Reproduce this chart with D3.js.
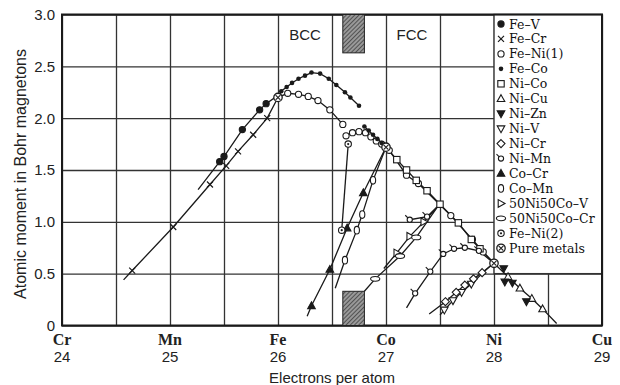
<!DOCTYPE html>
<html>
<head>
  <meta charset="UTF-8">
  <style>
    body { margin: 0; padding: 0; background: #fff; }
    svg { display: block; }
    .tick-num { font-family: "Liberation Sans", Arial, sans-serif; font-size: 15px; fill: #222; }
    .elem { font-family: "Liberation Serif", serif; font-weight: bold; font-size: 16px; fill: #222; }
    .title { font-family: "Liberation Sans", Arial, sans-serif; font-size: 15px; fill: #222; }
    .leg { font-family: "DejaVu Serif", serif; font-size: 12.5px; fill: #111; }
  </style>
</head>
<body>
<svg id="chart"></svg>
<script src="https://d3js.org/d3.v7.min.js"></script>
<script>
let width = 620, height = 385;
let margin = {top: 14.5, right: 18, bottom: 59.5, left: 62};

// axes
const elements = ["Cr", "Mn", "Fe", "Co", "Ni", "Cu"];
const electronTicks = [24, 25, 26, 27, 28, 29];
const momentTicks = [0, 0.5, 1, 1.5, 2, 2.5, 3];

// series: [electrons, moment, marker?]  (third value 0 = line end, no marker)
const feV = [[25.26,1.31,0],[25.46,1.58],[25.5,1.63],[25.67,1.89],[25.83,2.08],[25.89,2.14],[26.0,2.22,0]];
const feCr = [[24.57,0.44,0],[24.65,0.53],[25.03,0.95],[25.37,1.36],[25.52,1.54],[25.63,1.68],[25.77,1.84],[25.9,2.0],[26.0,2.2,0]];
const feNi1Bcc = [[26.0,2.2,0],[26.09,2.24],[26.19,2.23],[26.28,2.21],[26.37,2.17],[26.48,2.08],[26.6,1.94]];
const feNi1Fcc = [[26.63,1.83],[26.69,1.86],[26.75,1.87],[26.81,1.86],[26.86,1.82],[26.91,1.78],[26.96,1.75],[27.03,1.69],[27.19,1.45],[27.3,1.37],[27.6,1.06],[27.8,0.83],[27.9,0.71],[28.0,0.6,0]];
const feCoBcc = [[26.0,2.2,0],[26.03,2.26],[26.08,2.3],[26.13,2.34],[26.19,2.38],[26.25,2.41],[26.31,2.44],[26.39,2.43],[26.47,2.38],[26.54,2.32],[26.62,2.25],[26.67,2.2],[26.75,2.12]];
const feCoFcc = [[26.8,1.92],[26.84,1.88],[26.88,1.84],[26.92,1.8],[26.96,1.76],[27.0,1.72,0]];
const niCo = [[27.0,1.72,0],[27.1,1.6],[27.19,1.5],[27.28,1.4],[27.38,1.3],[27.5,1.17],[27.67,0.99],[27.79,0.83],[27.87,0.74],[28.0,0.6,0]];
const niCu = [[28.0,0.6,0],[28.13,0.47],[28.24,0.36],[28.35,0.26],[28.45,0.16],[28.58,0.02,0]];
const niZn = [[28.09,0.55],[28.1,0.42],[28.17,0.41],[28.3,0.23]];
const niV = [[27.5,0.1,0],[27.54,0.15],[27.62,0.24],[27.7,0.32],[27.79,0.4],[27.97,0.58,0]];
const niCr = [[27.4,0.11,0],[27.55,0.23],[27.65,0.32],[27.73,0.39],[27.81,0.45],[27.89,0.51],[28.0,0.6,0]];
const niMn = [[27.19,0.17,0],[27.27,0.31],[27.41,0.52],[27.53,0.69],[27.63,0.74],[27.73,0.75],[27.86,0.72],[28.0,0.6,0]];
const niMn2 = [[27.22,1.02],[27.38,1.05],[27.47,1.14,0]];
const coCr = [[26.27,0.09,0],[26.31,0.19],[26.48,0.54],[26.64,0.94],[26.79,1.28],[27.0,1.72,0]];
const coMn = [[26.53,0.36,0],[26.62,0.63],[26.73,0.92],[26.78,1.07],[26.88,1.4],[27.0,1.72,0]];
const niCoV = [[26.98,0.55,0],[27.1,0.7],[27.22,0.86],[27.35,1.0],[27.48,1.15,0]];
const niCoCr = [[26.8,0.33,0],[26.9,0.45],[27.13,0.67],[27.28,0.85],[27.48,1.15,0]];
const feNi2 = [[26.59,0.92],[26.65,1.75]];
const pureMetals = [[26.0,2.2],[27.0,1.72],[28.0,0.6]];

const legendNames = ["Fe–V","Fe–Cr","Fe–Ni(1)","Fe–Co","Ni–Co","Ni–Cu","Ni–Zn","Ni–V","Ni–Cr","Ni–Mn","Co–Cr","Co–Mn","50Ni50Co–V","50Ni50Co–Cr","Fe–Ni(2)","Pure metals"];
const legendSymbols = ["bigdot","cross","circle","dot","square","tri","tridf","trid","diamond","tail","trif","vell","trir","hell","dotc","pure"];

// BCC/FCC two-phase band and labels (data units)
const hatchX = [26.6, 26.8];
const hatchTop = 2.63, hatchBottom = 0.33;
const phaseLabels = [{t: "BCC", x: 26.25, y: 2.8}, {t: "FCC", x: 27.24, y: 2.8}];

let series = [
  {pts: feCr, sym: "cross"}, {pts: feV, sym: "bigdot"},
  {pts: feNi1Bcc, sym: "circle"}, {pts: feNi1Fcc, sym: "circle"},
  {pts: feCoBcc, sym: "dot"}, {pts: feCoFcc, sym: "dot"},
  {pts: niCo, sym: "square"}, {pts: niCu, sym: "tri"},
  {pts: niZn, sym: "tridf", noLine: true},
  {pts: niV, sym: "trid"}, {pts: niCr, sym: "diamond"},
  {pts: niMn, sym: "tail"}, {pts: niMn2, sym: "tail"},
  {pts: coCr, sym: "trif"}, {pts: coMn, sym: "vell"},
  {pts: niCoV, sym: "trir"}, {pts: niCoCr, sym: "hell"},
  {pts: feNi2, sym: "dotc"}, {pts: pureMetals, sym: "pure", noLine: true}
];

let svg = d3.select("#chart").attr("width", width).attr("height", height);

let x = d3.scaleLinear().domain([24, 29]).range([margin.left, width - margin.right]);
let y = d3.scaleLinear().domain([0, 3]).range([height - margin.bottom, margin.top]);

let ink = "#1a1a1a";

// hatch pattern
let pat = svg.append("defs").append("pattern")
    .attr("id", "hatch").attr("width", 3).attr("height", 3)
    .attr("patternUnits", "userSpaceOnUse")
    .attr("patternTransform", "rotate(45)");
pat.append("rect").attr("width", 3).attr("height", 3).attr("fill", "#999");
pat.append("line").attr("x1", 0).attr("y1", 0).attr("x2", 0).attr("y2", 3)
    .attr("stroke", "#333").attr("stroke-width", 1.4);

// grid
svg.append("g")
    .attr("transform", `translate(0,${y(0)})`)
    .call(d3.axisBottom(x).tickValues(d3.range(24, 29.01, 0.5)).tickSize(-(y(0) - y(3))).tickFormat(""))
    .call(g => g.select(".domain").remove())
    .call(g => g.selectAll("line").attr("stroke", "#333").attr("stroke-width", 1.3));
svg.append("g")
    .attr("transform", `translate(${x(24)},0)`)
    .call(d3.axisLeft(y).tickValues(momentTicks).tickSize(-(x(29) - x(24))).tickFormat(""))
    .call(g => g.select(".domain").remove())
    .call(g => g.selectAll("line").attr("stroke", "#333").attr("stroke-width", 1.3));

// legend box (covers the grid in the top-right cell block)
svg.append("rect")
    .attr("x", x(28)).attr("y", y(3))
    .attr("width", x(29) - x(28)).attr("height", y(0.5) - y(3))
    .attr("fill", "#fff").attr("stroke", "#333").attr("stroke-width", 1.4);

// frame
svg.append("rect")
    .attr("x", x(24)).attr("y", y(3))
    .attr("width", x(29) - x(24)).attr("height", y(0) - y(3))
    .attr("fill", "none").attr("stroke", ink).attr("stroke-width", 2);

// hatched bands
[[hatchTop, 3], [0, hatchBottom]].forEach(b => {
  svg.append("rect")
      .attr("x", x(hatchX[0])).attr("y", y(b[1]))
      .attr("width", x(hatchX[1]) - x(hatchX[0])).attr("height", y(b[0]) - y(b[1]))
      .attr("fill", "url(#hatch)").attr("stroke", "#222").attr("stroke-width", 1);
});

svg.selectAll(".phase").data(phaseLabels).enter().append("text")
    .attr("class", "title")
    .attr("x", d => x(d.x)).attr("y", d => y(d.y))
    .attr("dy", "0.35em").attr("text-anchor", "middle")
    .style("font-size", "15px")
    .text(d => d.t);

// tick labels
svg.selectAll(".ylab").data(momentTicks).enter().append("text")
    .attr("class", "tick-num")
    .attr("x", 55).attr("y", d => y(d)).attr("dy", "0.36em")
    .attr("text-anchor", "end")
    .text(d => d === 0 ? "0" : d.toFixed(1));

svg.selectAll(".xel").data(electronTicks).enter().append("text")
    .attr("class", "elem")
    .attr("x", d => x(d)).attr("y", 345)
    .attr("text-anchor", "middle")
    .text((d, i) => elements[i]);
svg.selectAll(".xnum").data(electronTicks).enter().append("text")
    .attr("class", "tick-num")
    .attr("x", d => x(d)).attr("y", 362)
    .attr("text-anchor", "middle")
    .text(d => d);

svg.append("text").attr("class", "title")
    .attr("x", (x(24) + x(29)) / 2).attr("y", 383)
    .attr("text-anchor", "middle")
    .text("Electrons per atom");
svg.append("text").attr("class", "title")
    .attr("transform", `translate(26,${(y(0) + y(3)) / 2 + 4}) rotate(-90)`)
    .attr("text-anchor", "middle")
    .style("font-size", "16px")
    .text("Atomic moment in Bohr magnetons");

// marker drawing
function drawSym(g, sym, cx, cy) {
  let s = g.append("g").attr("transform", `translate(${cx},${cy})`)
      .attr("stroke", ink).attr("stroke-width", 1.1).attr("fill", "#fff");
  let tri = "M0,-4L3.8,2.8L-3.8,2.8Z";
  let trid = "M0,4L3.8,-2.8L-3.8,-2.8Z";
  switch (sym) {
    case "bigdot": s.append("circle").attr("r", 3.1).attr("fill", ink); break;
    case "dot": s.append("circle").attr("r", 2.3).attr("fill", ink).attr("stroke", "none"); break;
    case "cross": s.append("path").attr("d", "M-3,-3L3,3M-3,3L3,-3").attr("stroke-width", 1.2); break;
    case "circle": s.append("circle").attr("r", 3.1); break;
    case "square": s.append("rect").attr("x", -3.2).attr("y", -3.2).attr("width", 6.4).attr("height", 6.4); break;
    case "tri": s.append("path").attr("d", tri); break;
    case "trif": s.append("path").attr("d", tri).attr("fill", ink); break;
    case "trid": s.append("path").attr("d", trid); break;
    case "tridf": s.append("path").attr("d", trid).attr("fill", ink); break;
    case "trir": s.append("path").attr("d", "M4,0L-2.8,-3.8L-2.8,3.8Z"); break;
    case "diamond": s.append("path").attr("d", "M0,-4L4,0L0,4L-4,0Z"); break;
    case "tail":
      s.append("path").attr("d", "M-2,-2L-4.5,-4.5");
      s.append("circle").attr("r", 2.6); break;
    case "vell": s.append("ellipse").attr("rx", 2.6).attr("ry", 3.8); break;
    case "hell": s.append("ellipse").attr("rx", 4.6).attr("ry", 2.4); break;
    case "dotc":
      s.append("circle").attr("r", 3.2);
      s.append("circle").attr("r", 1.1).attr("fill", ink).attr("stroke", "none"); break;
    case "pure":
      s.append("circle").attr("r", 4.2).attr("stroke-width", 1.3);
      s.append("path").attr("d", "M-2.4,-2.4L2.4,2.4M-2.4,2.4L2.4,-2.4"); break;
  }
}

let line = d3.line().x(d => x(d[0])).y(d => y(d[1]));

let gLines = svg.append("g");
series.filter(s => !s.noLine).forEach(s => {
  gLines.append("path").attr("d", line(s.pts))
      .attr("fill", "none").attr("stroke", ink).attr("stroke-width", 1.3);
});

let gMarks = svg.append("g");
series.forEach(s => {
  s.pts.filter(p => p[2] !== 0).forEach(p => drawSym(gMarks, s.sym, x(p[0]), y(p[1])));
});

// legend entries
let legY0 = 24, legStep = 14.95;
legendNames.forEach((name, i) => {
  drawSym(svg, legendSymbols[i], 501, legY0 + i * legStep);
  svg.append("text").attr("class", "leg")
      .attr("x", 509).attr("y", legY0 + i * legStep).attr("dy", "0.36em")
      .text(name);
});
</script>
</body>
</html>
